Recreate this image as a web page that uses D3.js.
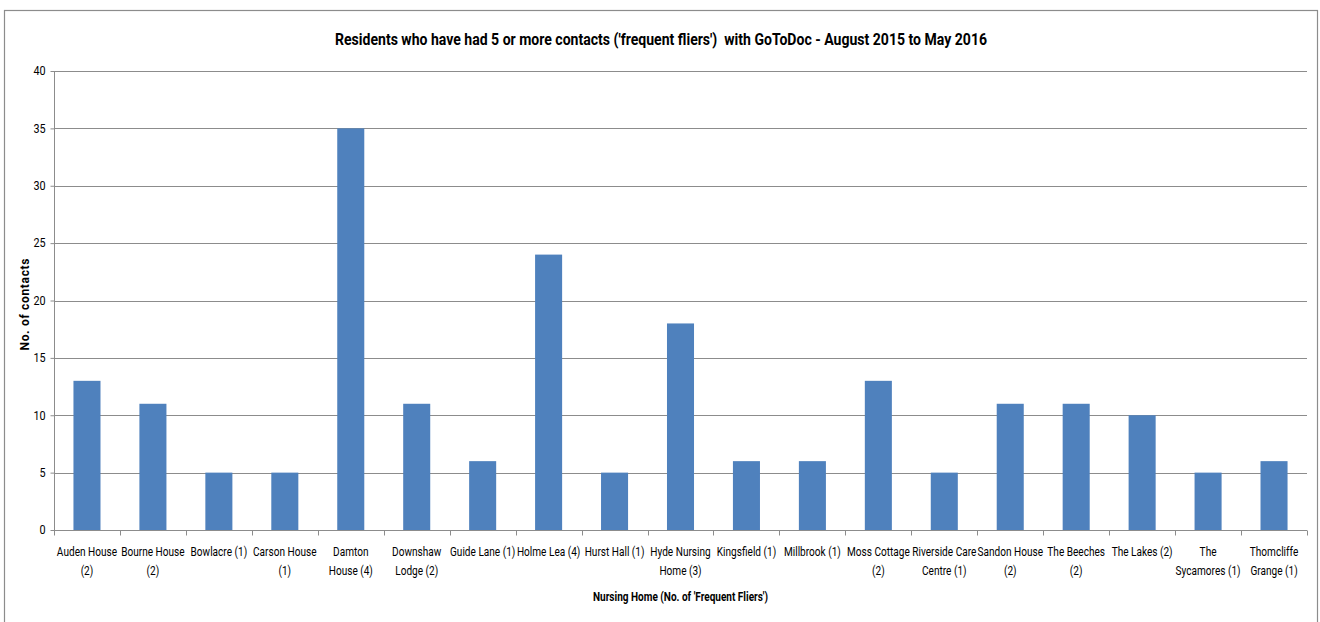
<!DOCTYPE html>
<html lang="en">
<head>
<meta charset="utf-8">
<script src="https://cdn.jsdelivr.net/npm/d3@7"></script>
<title>Frequent fliers</title>
<style>
body { margin:0; background:#fff; }
svg text { font-family: "Liberation Sans Narrow", "Arial Narrow", Roboto, sans-serif; fill:#000; }
</style>
</head>
<body>
<div id="chart"></div>
<script>
  // category labels, "\n" marks where Excel wrapped them
  const homes = ["Auden House\n(2)", "Bourne House\n(2)", "Bowlacre (1)", "Carson House\n(1)", "Damton\nHouse (4)",
    "Downshaw\nLodge (2)", "Guide Lane (1)", "Holme Lea (4)", "Hurst Hall (1)", "Hyde Nursing\nHome (3)",
    "Kingsfield (1)", "Millbrook (1)", "Moss Cottage\n(2)", "Riverside Care\nCentre (1)", "Sandon House\n(2)",
    "The Beeches\n(2)", "The Lakes (2)", "The\nSycamores (1)", "Thomcliffe\nGrange (1)"];
  const contacts = [13, 11, 5, 5, 35, 11, 6, 24, 5, 18, 6, 6, 13, 5, 11, 11, 10, 5, 6];
  const yTicks = [0, 5, 10, 15, 20, 25, 30, 35, 40];

  const titleText = "Residents who have had 5 or more contacts ('frequent fliers')  with GoToDoc - August 2015 to May 2016";
  const xTitle = "Nursing Home (No. of 'Frequent Fliers')";
  const yTitle = "No. of contacts";

  const width = 1320, height = 622;
  const plot = {left: 54, right: 1307, top: 71, bottom: 530};

  const svg = d3.select("#chart").append("svg").attr("width", width).attr("height", height);

  // outer chart border
  svg.append("rect").attr("x", 4.5).attr("y", 10.5).attr("width", 1313).attr("height", 640)
    .attr("fill", "#fff").attr("stroke", "#8c8c8c").attr("stroke-width", 1.2);

  const x = d3.scaleBand().domain(homes).range([plot.left, plot.right]).paddingInner(0.59).paddingOuter(0.295);
  const y = d3.scaleLinear().domain([0, 40]).range([plot.bottom, plot.top]);

  // gridlines
  svg.append("g").selectAll("line").data(yTicks.filter(function(d){return d > 0;})).enter().append("line")
    .attr("x1", plot.left).attr("x2", plot.right)
    .attr("y1", function(d){return Math.round(y(d)) + 0.5;}).attr("y2", function(d){return Math.round(y(d)) + 0.5;})
    .attr("stroke", "#8c8c8c").attr("stroke-width", 1);

  // bars
  svg.append("g").selectAll("rect").data(contacts).enter().append("rect")
    .attr("x", function(d, i){return x(homes[i]);})
    .attr("width", x.bandwidth())
    .attr("y", function(d){return y(d);})
    .attr("height", function(d){return y(0) - y(d);})
    .attr("fill", "#4f81bd");

  // y axis
  const yAxis = d3.axisLeft(y).tickValues(yTicks).tickSize(4).tickPadding(6);
  const yg = svg.append("g").attr("transform", "translate(" + (plot.left + 0.5) + ",0)").call(yAxis);
  yg.select(".domain").attr("stroke", "#8c8c8c").attr("d", "M0," + plot.top + "V" + plot.bottom);
  yg.selectAll(".tick line").attr("stroke", "#8c8c8c");
  yg.selectAll(".tick text").style("font-size", "12px").attr("transform", "scale(0.9,1)");

  // x axis: ticks sit on category boundaries
  const xg = svg.append("g").attr("transform", "translate(0," + (Math.round(plot.bottom) + 0.5) + ")");
  xg.append("line").attr("x1", plot.left).attr("x2", plot.right).attr("stroke", "#8c8c8c");
  xg.selectAll(".tk").data(d3.range(homes.length + 1)).enter().append("line")
    .attr("x1", function(i){return Math.round(plot.left + i * (plot.right - plot.left) / homes.length) + 0.5;})
    .attr("x2", function(i){return Math.round(plot.left + i * (plot.right - plot.left) / homes.length) + 0.5;})
    .attr("y1", 0).attr("y2", 5).attr("stroke", "#8c8c8c");

  const labels = xg.selectAll(".lbl").data(homes).enter().append("text")
    .attr("text-anchor", "middle")
    .attr("transform", function(d){return "translate(" + (x(d) + x.bandwidth() / 2) + ",25) scale(0.84,1)";})
    .style("font-size", "12px");
  labels.selectAll("tspan").data(function(d){return d.split("\n");}).enter().append("tspan")
    .attr("x", 0).attr("dy", function(d, i){return i === 0 ? 0 : 20;})
    .text(function(d){return d;});

  // titles
  svg.append("text").attr("x", 661).attr("y", 45).attr("text-anchor", "middle")
    .attr("textLength", 652).attr("lengthAdjust", "spacingAndGlyphs")
    .style("font-size", "17px").style("font-weight", "bold").style("white-space", "pre").text(titleText);
  svg.append("text").attr("x", (plot.left + plot.right) / 2).attr("y", 601).attr("text-anchor", "middle")
    .attr("textLength", 175).attr("lengthAdjust", "spacingAndGlyphs")
    .style("font-size", "12.5px").style("font-weight", "bold").text(xTitle);
  svg.append("text").attr("transform", "translate(29," + ((plot.top + plot.bottom) / 2 + 4) + ") rotate(-90)")
    .attr("text-anchor", "middle").attr("textLength", 92).attr("lengthAdjust", "spacing")
    .style("font-size", "12px").style("font-weight", "bold").text(yTitle);
</script>
</body>
</html>
